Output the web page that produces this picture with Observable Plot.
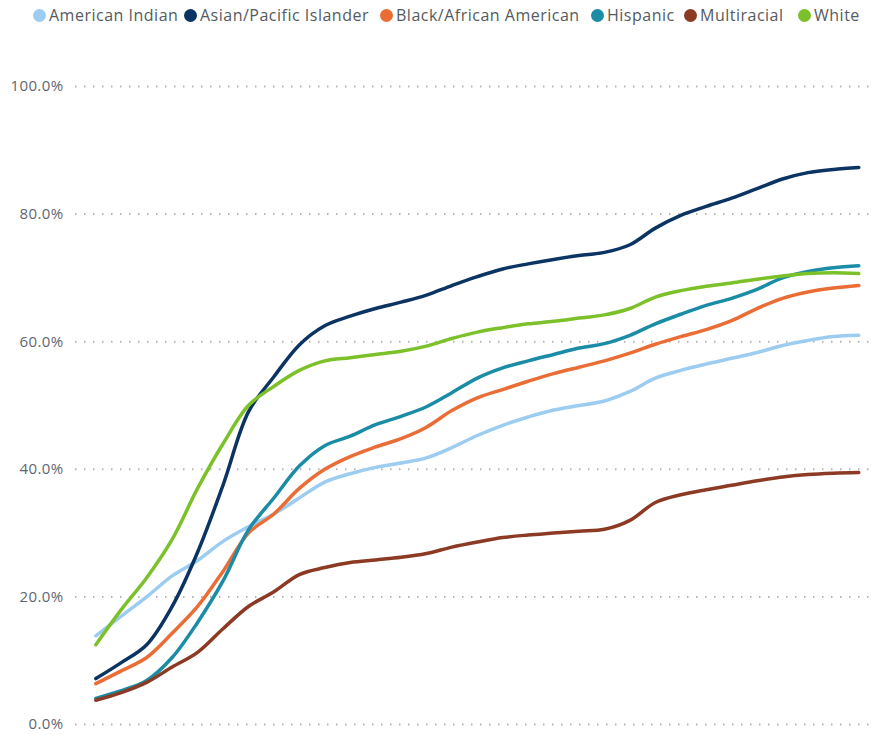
<!DOCTYPE html>
<html>
<head>
<meta charset="utf-8">
<script src="https://cdn.jsdelivr.net/npm/d3@7"></script>
<script src="https://cdn.jsdelivr.net/npm/@observablehq/plot@0.6"></script>
<style>
  html, body { margin: 0; padding: 0; background: #fff; }
  body { width: 871px; height: 735px; overflow: hidden; font-family: "Open Sans", sans-serif; }
  #legend { position: relative; height: 30px; font-size: 16px; letter-spacing: 0.5px; color: #555a60; white-space: nowrap; }
  #legend .item { position: absolute; top: 0; height: 30px; display: flex; align-items: center; }
  #legend .dot { width: 13px; height: 13px; border-radius: 50%; margin-right: 3px; }
  #chart svg text { letter-spacing: 0.4px; }
</style>
</head>
<body>
<div id="legend"></div>
<div id="chart"></div>
<script>
const series = ["American Indian", "Asian/Pacific Islander", "Black/African American", "Hispanic", "Multiracial", "White"];
const colors = ["#9ccdf0", "#0b3463", "#ea6d35", "#1a8ca6", "#8c3a24", "#7cc12a"];
const steps = [0,1,2,3,4,5,6,7,8,9,10,11,12,13,14,15,16,17,18,19,20,21,22,23,24,25,26,27,28,29,30];

const americanIndian = [13.9,17,20,23.3,25.7,28.7,31,33,35.5,38,39.3,40.3,41,41.8,43.4,45.3,46.9,48.2,49.3,50,50.7,52.2,54.3,55.5,56.5,57.4,58.3,59.4,60.2,60.8,61];
const asianPacific = [7.2,9.7,12.5,18.5,27,37.5,49,54.5,59.5,62.5,64,65.2,66.2,67.3,68.8,70.2,71.4,72.2,72.9,73.5,74,75.2,77.8,79.8,81.2,82.5,84,85.5,86.5,87,87.3];
const blackAfrican = [6.4,8.4,10.5,14.3,18.5,24,30,33,37,40,42,43.5,44.8,46.6,49.2,51.2,52.5,53.8,55,56,57,58.2,59.6,60.8,61.9,63.3,65.2,66.8,67.8,68.4,68.8];
const hispanic = [4.1,5.3,6.9,10.5,16,22.5,30.5,35.5,40.5,43.7,45.2,47,48.3,49.8,52,54.3,55.9,57,58,59,59.7,61,62.8,64.3,65.7,66.8,68.2,70,71,71.6,71.9];
const multiracial = [3.8,5,6.6,9,11.3,15,18.5,20.8,23.5,24.6,25.4,25.8,26.2,26.8,27.8,28.6,29.3,29.7,30,30.3,30.6,32,34.8,36,36.8,37.5,38.2,38.8,39.2,39.4,39.5];
const white = [12.5,18,23,29,37,44,50,53,55.5,57,57.5,58,58.5,59.3,60.5,61.5,62.2,62.8,63.2,63.7,64.2,65.2,67,68,68.7,69.2,69.8,70.3,70.7,70.8,70.7];
const yTicks = [0, 20, 40, 60, 80, 100];

const valuesBySeries = [americanIndian, asianPacific, blackAfrican, hispanic, multiracial, white];
const data = [];
series.forEach((s, i) => steps.forEach((t, j) => data.push({series: s, step: t, value: valuesBySeries[i][j]})));

// legend (layout offsets of each item, in px)
const legendLeft = [33, 184, 380, 591, 684, 798];
const legend = document.getElementById("legend");
series.forEach((s, i) => {
  const item = document.createElement("div");
  item.className = "item";
  item.style.left = legendLeft[i] + "px";
  item.innerHTML = `<span class="dot" style="background:${colors[i]}"></span><span>${s}</span>`;
  legend.appendChild(item);
});

const chart = Plot.plot({
  width: 871,
  height: 705,
  marginTop: 56,
  marginBottom: 11,
  marginLeft: 75,
  marginRight: 0,
  style: {fontFamily: "Open Sans, sans-serif", fontSize: "15px", color: "#5f6670"},
  x: {domain: [-0.8, 30.5], axis: null},
  y: {domain: [0, 100], ticks: yTicks, tickFormat: d => d.toFixed(1) + "%", tickSize: 0, tickPadding: 12, label: null},
  color: {domain: series, range: colors},
  marks: [
    Plot.ruleY(yTicks, {stroke: "#b5b5b5", strokeWidth: 2, strokeDasharray: "1.5,7.5"}),
    Plot.line(data, {x: "step", y: "value", z: "series", stroke: "series", strokeWidth: 3.5, curve: "catmull-rom"})
  ]
});
document.getElementById("chart").appendChild(chart);
</script>
</body>
</html>
